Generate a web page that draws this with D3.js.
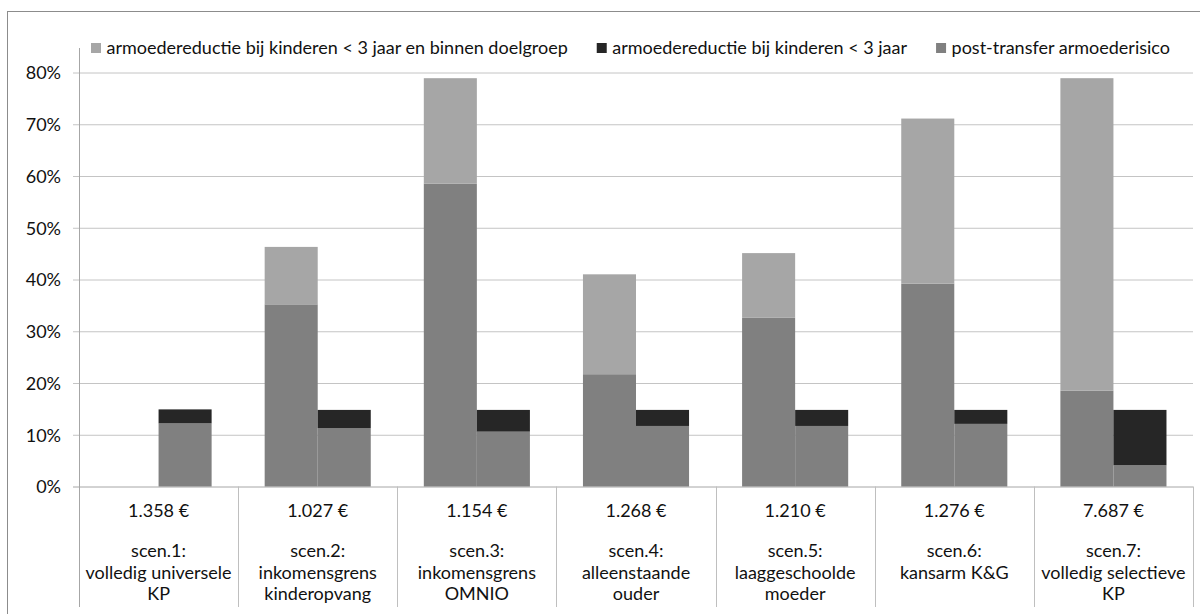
<!DOCTYPE html>
<html>
<head>
<meta charset="utf-8">
<script src="https://cdn.jsdelivr.net/npm/d3@7"></script>
<style>
  body { margin: 0; background: #fff; }
  text { font-family: Lato, "Open Sans", sans-serif; fill: #111; }
</style>
</head>
<body>
<script>
// scenario labels (one entry per line) and cost per child
var scenarios = [
  ["scen.1:", "volledig universele", "KP"],
  ["scen.2:", "inkomensgrens", "kinderopvang"],
  ["scen.3:", "inkomensgrens", "OMNIO"],
  ["scen.4:", "alleenstaande", "ouder"],
  ["scen.5:", "laaggeschoolde", "moeder"],
  ["scen.6:", "kansarm K&G"],
  ["scen.7:", "volledig selectieve", "KP"]
];
var costs = ["1.358 €", "1.027 €", "1.154 €", "1.268 €", "1.210 €", "1.276 €", "7.687 €"];

// left bar of each scenario: within the target group
var postTarget      = [0, 0.352, 0.585, 0.217, 0.326, 0.392, 0.185];
var reductionTarget = [0, 0.111, 0.204, 0.193, 0.125, 0.319, 0.604];
// right bar: all children < 3 years
var postAll         = [0.122, 0.113, 0.106, 0.117, 0.117, 0.121, 0.041];
var reductionAll    = [0.027, 0.035, 0.042, 0.031, 0.031, 0.027, 0.107];

var yTicks = [0, 0.1, 0.2, 0.3, 0.4, 0.5, 0.6, 0.7, 0.8];

var legendLabels = [
  "armoedereductie bij kinderen < 3 jaar en binnen doelgroep",
  "armoedereductie bij kinderen < 3 jaar",
  "post-transfer armoederisico"
];
var colors = {light: "#a6a6a6", dark: "#262626", mid: "#808080"};
var legendColors = [colors.light, colors.dark, colors.mid];

var width = 1200, height = 614;
var plot = {left: 79, right: 1193, top: 72.5, bottom: 486.5};
var fontSize = "18px";

var svg = d3.select("body").append("svg")
    .attr("width", width)
    .attr("height", height);

// outer chart frame
svg.append("rect")
    .attr("x", 7.5).attr("y", 11.5)
    .attr("width", 1210).attr("height", 620)
    .attr("fill", "none")
    .attr("stroke", "#8c8c8c");

var xScale = d3.scaleBand()
    .domain(d3.range(scenarios.length))
    .range([plot.left, plot.right])
    .padding(0);

var xSub = d3.scaleBand()
    .domain(["target", "all"])
    .range([0, xScale.bandwidth()])
    .paddingInner(0)
    .paddingOuter(0.5);

var yScale = d3.scaleLinear()
    .domain([0, 0.8])
    .range([plot.bottom, plot.top]);

//Gridlines + y labels (ticks stick out 6px left of the axis)
var gridLen = plot.right - plot.left + 6;
var yAxis = d3.axisLeft(yScale)
    .tickValues(yTicks)
    .tickFormat(d3.format(".0%"))
    .tickSize(gridLen);

var gy = svg.append("g")
    .attr("transform", "translate(" + plot.right + ",0)")
    .call(yAxis);
gy.select(".domain").remove();
gy.selectAll(".tick line")
    .attr("stroke", function(d) { return d === 0 ? "#a6a6a6" : "#c4c4c4"; });
gy.selectAll(".tick text")
    .attr("x", -gridLen - 12)
    .attr("dy", "0.35em")
    .attr("font-size", fontSize)
    .style("font-family", "Lato, sans-serif")
    .attr("fill", "#111");

// stacked bars
var rows = scenarios.map(function(s, i) {
  return {i: i, postTarget: postTarget[i], reductionTarget: reductionTarget[i],
          postAll: postAll[i], reductionAll: reductionAll[i]};
});

var stackTarget = d3.stack().keys(["postTarget", "reductionTarget"])(rows);
var stackAll = d3.stack().keys(["postAll", "reductionAll"])(rows);

var fillOf = {postTarget: colors.mid, reductionTarget: colors.light,
              postAll: colors.mid, reductionAll: colors.dark};

function drawStack(stack, sub) {
  svg.append("g").selectAll("g")
    .data(stack)
    .enter().append("g")
    .attr("fill", function(d) { return fillOf[d.key]; })
    .selectAll("rect")
    .data(function(d) { return d; })
    .enter().append("rect")
    .attr("x", function(d) { return xScale(d.data.i) + xSub(sub); })
    .attr("width", xSub.bandwidth())
    .attr("y", function(d) { return yScale(d[1]); })
    .attr("height", function(d) { return yScale(d[0]) - yScale(d[1]); });
}
drawStack(stackTarget, "target");
drawStack(stackAll, "all");

// vertical axis line and category separators
var seps = d3.range(scenarios.length + 1).map(function(i) {
  return i < scenarios.length ? xScale(i) : plot.right;
});
svg.append("g").selectAll("line")
    .data(seps)
    .enter().append("line")
    .attr("x1", function(d) { return Math.round(d) + 0.5; })
    .attr("x2", function(d) { return Math.round(d) + 0.5; })
    .attr("y1", function(d, i) { return i === 0 ? 48 : plot.bottom; })
    .attr("y2", 607)
    .attr("stroke", function(d, i) { return i === 0 ? "#a6a6a6" : "#bfbfbf"; });

// category labels
var cat = svg.append("g").selectAll("g")
    .data(scenarios)
    .enter().append("g")
    .attr("transform", function(d, i) { return "translate(" + (xScale(i) + xScale.bandwidth() / 2) + ",0)"; });

cat.append("text")
    .attr("y", 517)
    .attr("text-anchor", "middle")
    .attr("font-size", fontSize)
    .text(function(d, i) { return costs[i]; });

cat.append("text")
    .attr("text-anchor", "middle")
    .attr("font-size", fontSize)
    .selectAll("tspan")
    .data(function(d) { return d; })
    .enter().append("tspan")
    .attr("x", 0)
    .attr("y", function(d, j) { return 557 + j * 21.5; })
    .text(function(d) { return d; });

// legend
var legend = svg.append("g").attr("transform", "translate(91,0)");
var lx = 0;
legendLabels.forEach(function(label, i) {
  legend.append("rect")
      .attr("x", lx).attr("y", 43)
      .attr("width", 10).attr("height", 10)
      .attr("fill", legendColors[i]);
  var t = legend.append("text")
      .attr("x", lx + 15.5).attr("y", 53.5)
      .attr("font-size", fontSize)
      .text(label);
  lx += 15.5 + t.node().getComputedTextLength() + 29;
});
</script>
</body>
</html>
